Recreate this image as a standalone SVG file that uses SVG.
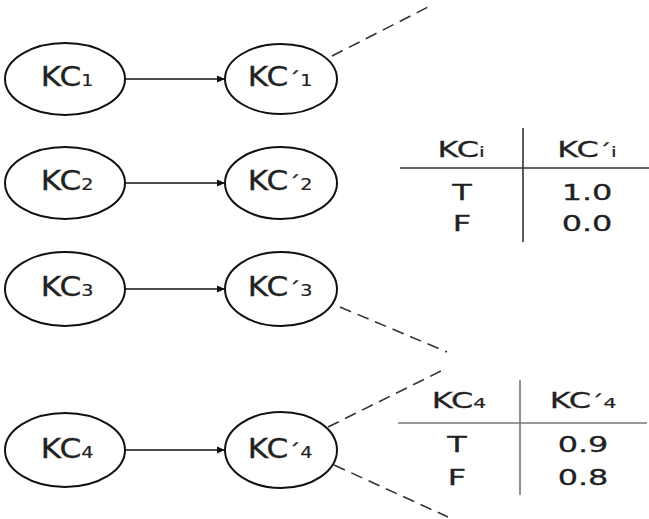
<svg xmlns="http://www.w3.org/2000/svg" width="649" height="519" viewBox="0 0 649 519">
<defs>
<marker id="ah" markerWidth="8" markerHeight="8" refX="7" refY="4" orient="auto" markerUnits="userSpaceOnUse">
<path d="M0,0.5 L8,4 L0,7.5 Z" fill="#111"/>
</marker>
<style>
.node{fill:#fff;stroke:#111;stroke-width:2}
.lbl{font-family:"DejaVu Sans",Verdana,sans-serif;font-size:26px;fill:#222;stroke:#222;stroke-width:0.3;text-anchor:middle}
.sub{font-size:16px;stroke-width:0.2}
.pr{font-size:20px}
.arrow{stroke:#111;stroke-width:1.6;fill:none}
.dash{stroke:#333;stroke-width:1.6;stroke-dasharray:12 7;fill:none}
.tt{font-family:"DejaVu Sans",Verdana,sans-serif;font-size:22px;fill:#222;stroke:#222;stroke-width:0.3;text-anchor:middle}
.tsub{font-size:14px;stroke-width:0.2}
.tpr{font-size:17px}
.tl1{stroke:#333;stroke-width:1.6}
.tl2{stroke:#777;stroke-width:1.6}
</style>
</defs>
<rect width="649" height="519" fill="#fff"/>
<g id="connectors">
<line class="arrow" x1="125" y1="79" x2="224" y2="79" marker-end="url(#ah)"/>
<line class="arrow" x1="125" y1="183" x2="224" y2="183" marker-end="url(#ah)"/>
<line class="arrow" x1="125" y1="289" x2="224" y2="289" marker-end="url(#ah)"/>
<line class="arrow" x1="125" y1="450" x2="224" y2="450" marker-end="url(#ah)"/>
<line class="dash" x1="332" y1="56" x2="432" y2="5"/>
<line class="dash" x1="340" y1="307" x2="447" y2="352"/>
<line class="dash" x1="328" y1="427" x2="447" y2="368"/>
<line class="dash" x1="334" y1="465" x2="448" y2="517"/>
</g>
<g id="kc1"><ellipse class="node" cx="65" cy="79" rx="60" ry="36"/><text class="lbl" transform="translate(67,86) scale(1.2,1)">KC<tspan class="sub">1</tspan></text></g>
<g id="kc1p"><ellipse class="node" cx="281" cy="79" rx="56" ry="35"/><text class="lbl" transform="translate(280,86) scale(1.2,1)">KC<tspan class="pr">´</tspan><tspan class="sub">1</tspan></text></g>
<g id="kc2"><ellipse class="node" cx="65" cy="183" rx="60" ry="36"/><text class="lbl" transform="translate(67,190) scale(1.2,1)">KC<tspan class="sub">2</tspan></text></g>
<g id="kc2p"><ellipse class="node" cx="281" cy="183" rx="56" ry="36"/><text class="lbl" transform="translate(280,190) scale(1.2,1)">KC<tspan class="pr">´</tspan><tspan class="sub">2</tspan></text></g>
<g id="kc3"><ellipse class="node" cx="65" cy="289" rx="60" ry="37"/><text class="lbl" transform="translate(67,296) scale(1.2,1)">KC<tspan class="sub">3</tspan></text></g>
<g id="kc3p"><ellipse class="node" cx="281" cy="289" rx="56" ry="37"/><text class="lbl" transform="translate(280,296) scale(1.2,1)">KC<tspan class="pr">´</tspan><tspan class="sub">3</tspan></text></g>
<g id="kc4"><ellipse class="node" cx="65" cy="450" rx="60" ry="37"/><text class="lbl" transform="translate(67,458) scale(1.2,1)">KC<tspan class="sub">4</tspan></text></g>
<g id="kc4p"><ellipse class="node" cx="281" cy="450" rx="56" ry="38"/><text class="lbl" transform="translate(280,458) scale(1.2,1)">KC<tspan class="pr">´</tspan><tspan class="sub">4</tspan></text></g>
<g id="table1">
<line class="tl1" x1="523" y1="128" x2="523" y2="242"/>
<line class="tl1" x1="400" y1="168" x2="649" y2="168"/>
<text class="tt" transform="translate(461,157) scale(1.45,1)">KC<tspan class="tsub">i</tspan></text>
<text class="tt" transform="translate(587,157) scale(1.45,1)">KC<tspan class="tpr">´</tspan><tspan class="tsub">i</tspan></text>
<text class="tt" transform="translate(462,200) scale(1.45,1)">T</text>
<text class="tt" transform="translate(587,200) scale(1.45,1)">1.0</text>
<text class="tt" transform="translate(462,231) scale(1.45,1)">F</text>
<text class="tt" transform="translate(587,231) scale(1.45,1)">0.0</text>
</g>
<g id="table2">
<line class="tl2" x1="520" y1="380" x2="520" y2="495"/>
<line class="tl2" x1="398" y1="423" x2="647" y2="423"/>
<text class="tt" transform="translate(459,408) scale(1.45,1)">KC<tspan class="tsub">4</tspan></text>
<text class="tt" transform="translate(583,408) scale(1.45,1)">KC<tspan class="tpr">´</tspan><tspan class="tsub">4</tspan></text>
<text class="tt" transform="translate(457,452) scale(1.45,1)">T</text>
<text class="tt" transform="translate(583,452) scale(1.45,1)">0.9</text>
<text class="tt" transform="translate(457,485) scale(1.45,1)">F</text>
<text class="tt" transform="translate(583,485) scale(1.45,1)">0.8</text>
</g>
</svg>
